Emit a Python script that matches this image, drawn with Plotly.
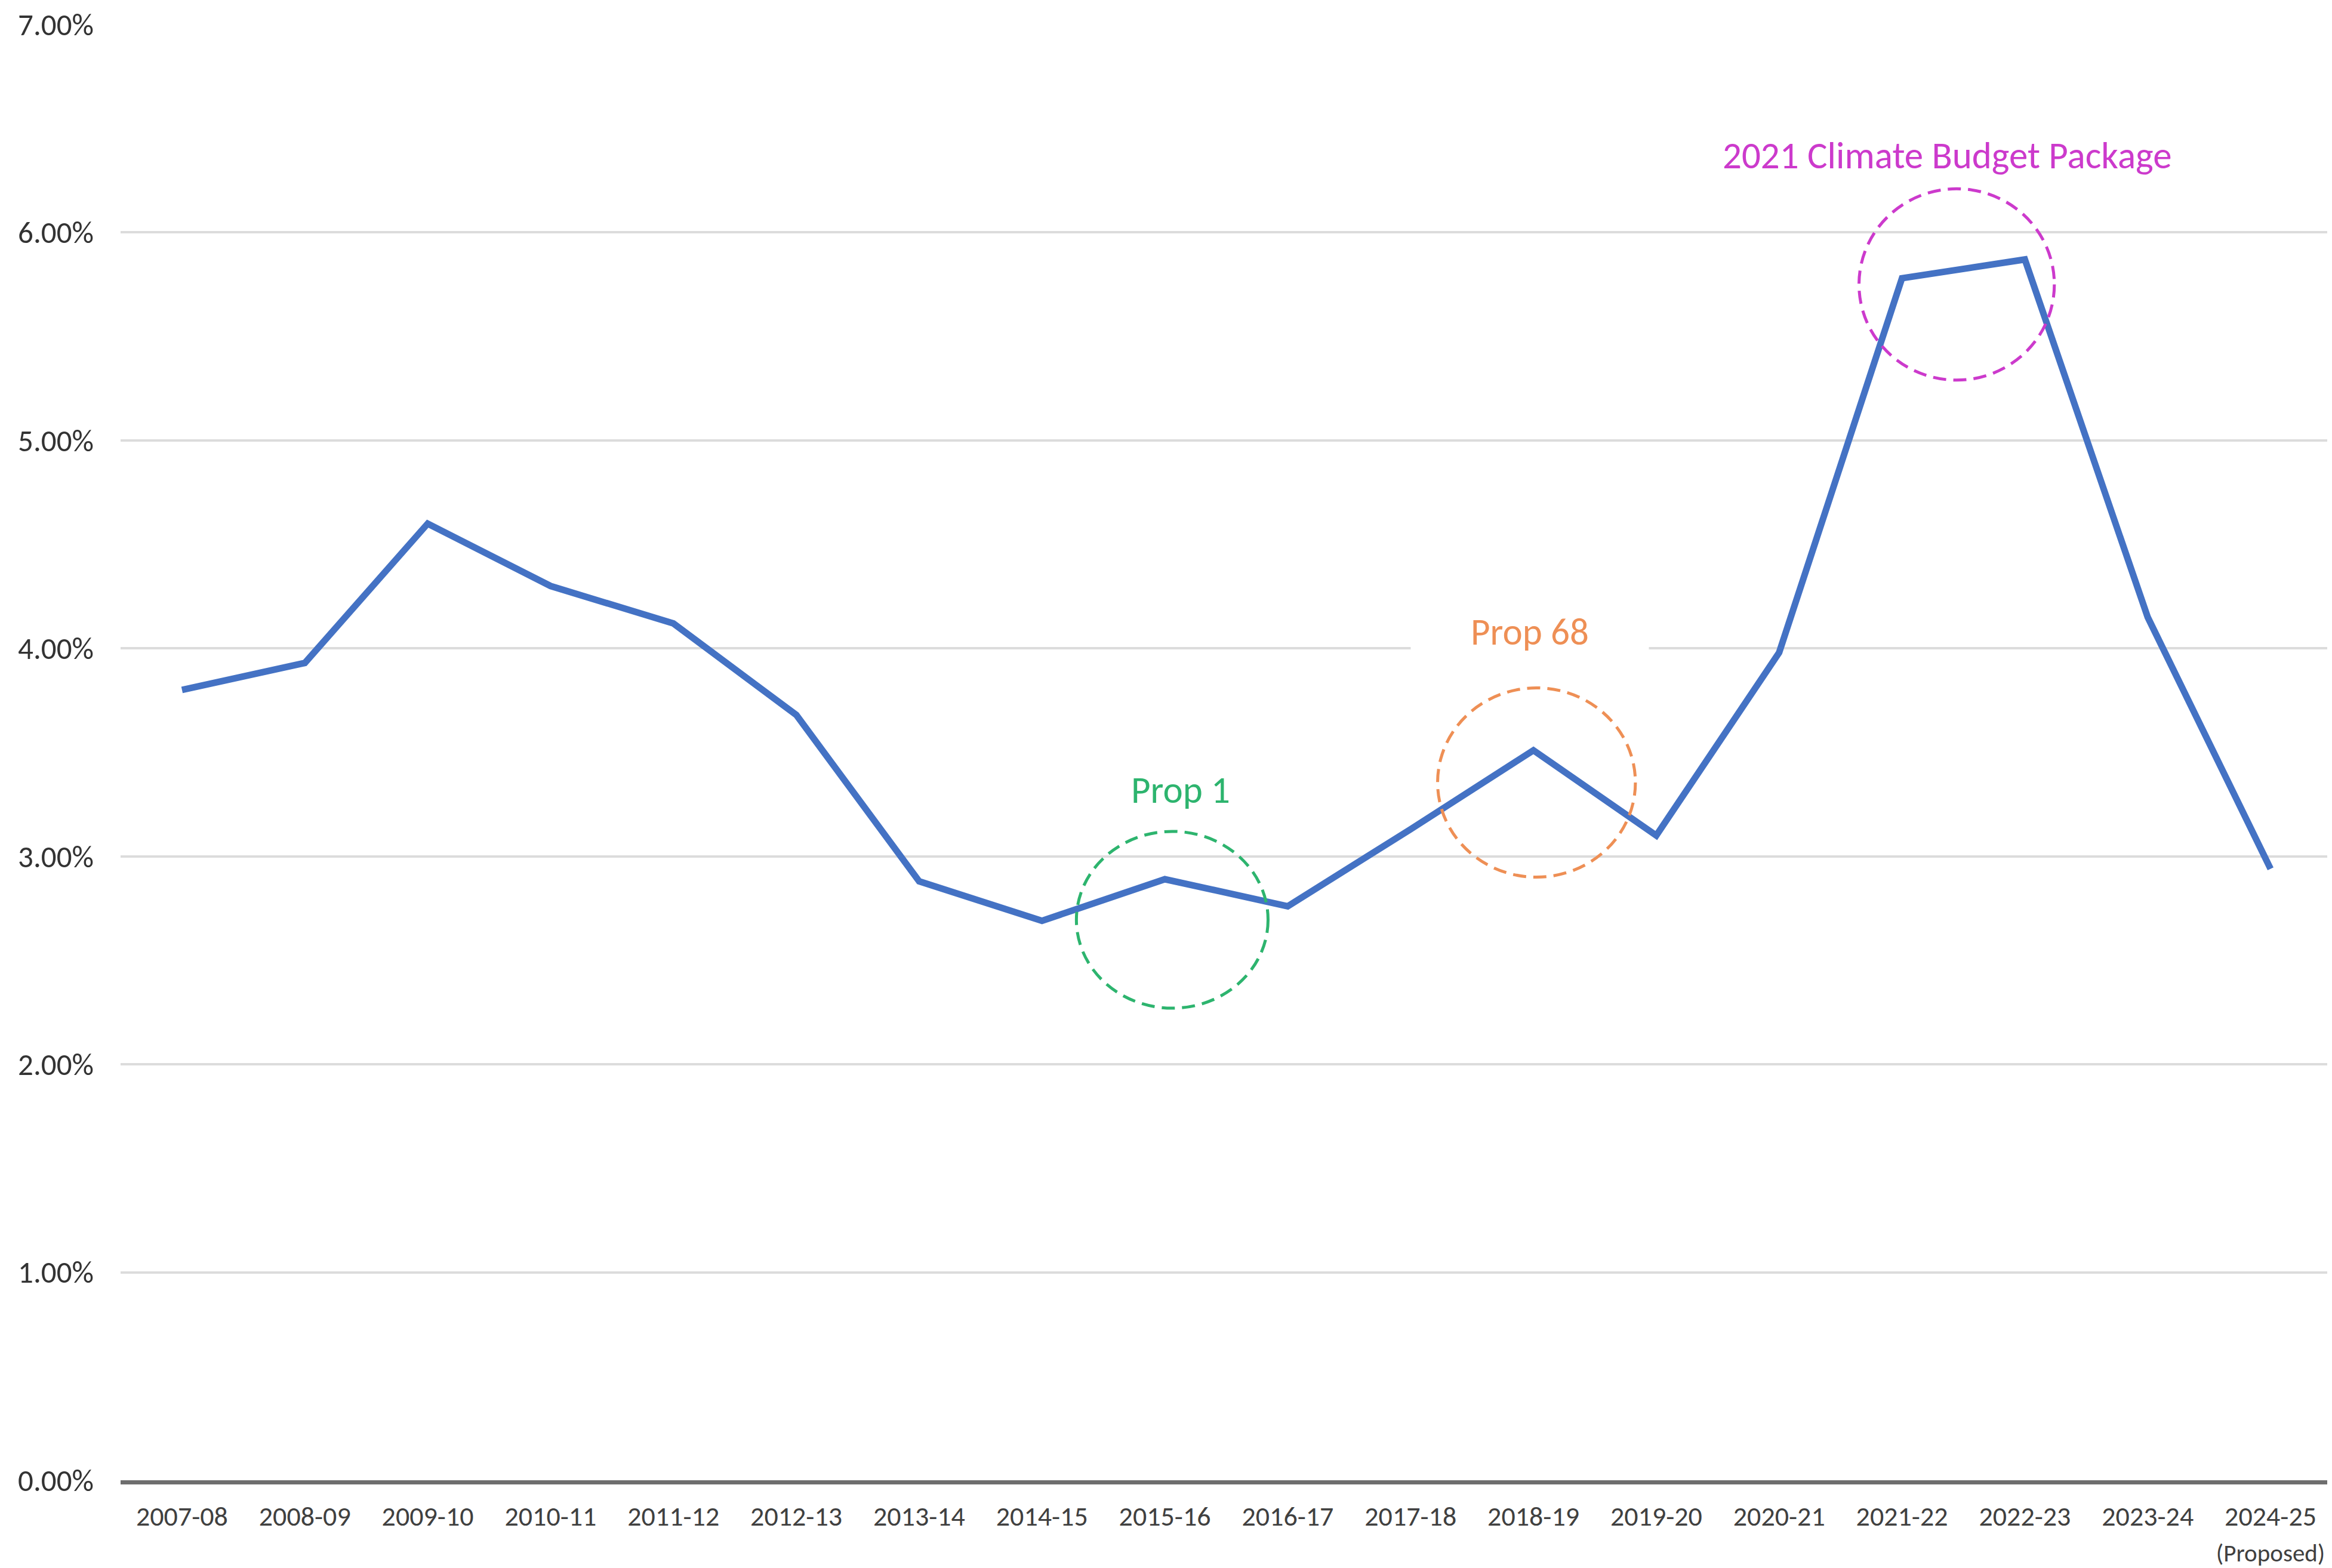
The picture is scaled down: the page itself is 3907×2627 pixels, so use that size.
import plotly.graph_objects as go

# ---- data ----
years = ["2007-08", "2008-09", "2009-10", "2010-11", "2011-12", "2012-13",
         "2013-14", "2014-15", "2015-16", "2016-17", "2017-18", "2018-19",
         "2019-20", "2020-21", "2021-22", "2022-23", "2023-24", "2024-25"]
tick_text = years[:-1] + ["2024-25<br><span style='font-size:41px'>(Proposed)</span>"]
share = [0.0380, 0.0393, 0.0460, 0.0430, 0.0412, 0.0368,
         0.0288, 0.0269, 0.0289, 0.0276, 0.0313, 0.0351,
         0.0310, 0.0398, 0.0578, 0.0587, 0.0415, 0.0294]

FONT = "Calibri, Carlito, Lato, sans-serif"
BLUE = "#4472C4"
GREEN = "#2DB46E"
ORANGE = "#EE8F55"
MAGENTA = "#CC3ACC"

fig = go.Figure()
fig.add_trace(go.Scatter(
    x=list(range(len(years))), y=share, mode="lines",
    line=dict(color=BLUE, width=11), hoverinfo="skip", showlegend=False))

# dashed circles (x in category index units, y in share units)
circles = [
    dict(x0=7.28, x1=8.84, y0=0.0227, y1=0.0312, color=GREEN),
    dict(x0=10.22, x1=11.83, y0=0.0290, y1=0.0381, color=ORANGE),
    dict(x0=13.65, x1=15.24, y0=0.0529, y1=0.0621, color=MAGENTA),
]
for c in circles:
    fig.add_shape(type="circle", xref="x", yref="y",
                  x0=c["x0"], x1=c["x1"], y0=c["y0"], y1=c["y1"],
                  line=dict(color=c["color"], width=5, dash="22px,12px"),
                  layer="above")

fig.add_annotation(x=8.13, y=0.0332, text="Prop 1", showarrow=False,
                   font=dict(family=FONT, size=63, color=GREEN))
fig.add_annotation(x=10.97, y=0.0408, text="Prop 68", showarrow=False,
                   width=390, bgcolor="white", borderpad=4,
                   font=dict(family=FONT, size=63, color=ORANGE))
fig.add_annotation(x=14.37, y=0.0637, text="2021 Climate Budget Package",
                   showarrow=False,
                   font=dict(family=FONT, size=63, color=MAGENTA))

# page has an 8px body margin: size the figure to fit inside the window
fig.update_layout(
    width=3899, height=2619,
    margin=dict(l=194, r=0, t=33, b=136),
    paper_bgcolor="white", plot_bgcolor="white",
    font=dict(family=FONT, color="#3A3A3A"),
)
fig.update_xaxes(
    tickmode="array", tickvals=list(range(len(years))), ticktext=tick_text,
    range=[-0.5, len(years) - 0.5],
    showgrid=False, zeroline=False,
    showline=True, linecolor="#6E6E6E", linewidth=7,
    ticks="", ticklabelstandoff=14,
    tickfont=dict(family=FONT, size=46, color="#404040"),
)
fig.update_yaxes(
    range=[0, 0.07], dtick=0.01, tickformat=".2%",
    showgrid=True, gridcolor="#DCDCDC", gridwidth=4,
    zeroline=False, showline=False, ticks="",
    ticklabelstandoff=44,
    tickfont=dict(family=FONT, size=51, color="#333333"),
)

fig.write_html("out.html")
